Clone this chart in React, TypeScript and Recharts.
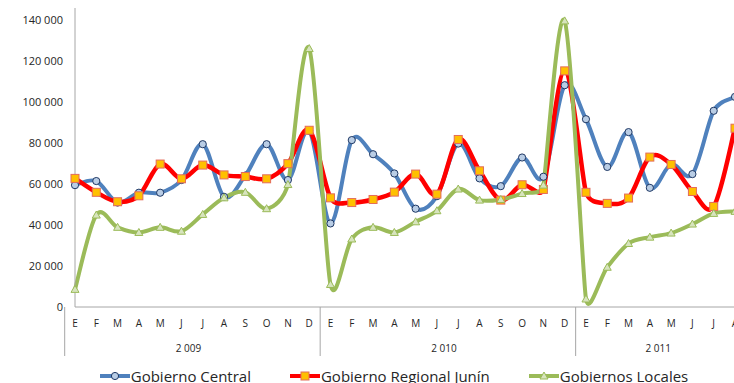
import React from "react";
import { LineChart, Line, XAxis, YAxis, Legend } from "recharts";

const months = ["E", "F", "M", "A", "M", "J", "J", "A", "S", "O", "N", "D"];
const years = ["2 009", "2 010", "2 011"];
const monthsPerYear = [12, 12, 8];

const gobiernoCentral = [
  59500, 61500, 51000, 55800, 55800, 62000, 79500, 53800, 64200, 79500, 62000, 86000,
  40800, 81500, 74600, 65200, 48000, 54100, 79800, 62800, 59000, 73000, 63600, 108300,
  91700, 68400, 85400, 58200, 69600, 64900, 95800, 102600,
];
const gobiernoRegional = [
  62800, 56000, 51400, 54300, 69800, 62600, 69300, 64500, 63700, 62600, 70000, 86300,
  53300, 51000, 52500, 56100, 64900, 55100, 81800, 66500, 52200, 59700, 57400, 115300,
  56000, 50600, 53200, 73200, 69600, 56400, 49100, 87300,
];
const gobiernosLocales = [
  8600, 44900, 38900, 36400, 38900, 37000, 45200, 53300, 56000, 48000, 59800, 126200,
  11000, 33200, 38900, 36400, 41600, 47000, 57600, 52200, 52500, 55400, 59500, 139700,
  3900, 19400, 31000, 34100, 36100, 40500, 45700, 46700,
];
const yTicks = [0, 20000, 40000, 60000, 80000, 100000, 120000, 140000];

const data: any[] = [];
let k = 0;
years.forEach((anio, yi) => {
  for (let m = 0; m < monthsPerYear[yi]; m++) {
    data.push({
      id: `${yi}-${m}`,
      mes: months[m],
      anio,
      yi,
      m,
      central: gobiernoCentral[k],
      regional: gobiernoRegional[k],
      locales: gobiernosLocales[k],
    });
    k++;
  }
});

const FONT = "'Open Sans', sans-serif";
const AXIS = "#a6a6a6";
const TEXT = "#262626";

// Excel style smoothed line: Bezier with 1/6 tangents, capped at half the shorter neighbour segment
function excelSmooth(context: any) {
  let pts: number[][] = [];
  const tangent = (i: number) => {
    const n = pts.length;
    const p0 = pts[Math.max(i - 1, 0)];
    const p1 = pts[i];
    const p2 = pts[Math.min(i + 1, n - 1)];
    let tx = (p2[0] - p0[0]) / 6;
    let ty = (p2[1] - p0[1]) / 6;
    const len = Math.hypot(tx, ty);
    const d01 = Math.hypot(p1[0] - p0[0], p1[1] - p0[1]) || Infinity;
    const d12 = Math.hypot(p2[0] - p1[0], p2[1] - p1[1]) || Infinity;
    const cap = Math.min(d01, d12) / 2;
    if (len > cap && len > 0) {
      tx *= cap / len;
      ty *= cap / len;
    }
    return [tx, ty];
  };
  return {
    areaStart() {},
    areaEnd() {},
    lineStart() {
      pts = [];
    },
    point(x: number, y: number) {
      pts.push([+x, +y]);
    },
    lineEnd() {
      const n = pts.length;
      if (!n) return;
      context.moveTo(pts[0][0], pts[0][1]);
      for (let i = 0; i < n - 1; i++) {
        const a = pts[i];
        const b = pts[i + 1];
        const ta = tangent(i);
        const tb = tangent(i + 1);
        context.bezierCurveTo(a[0] + ta[0], a[1] + ta[1], b[0] - tb[0], b[1] - tb[1], b[0], b[1]);
      }
    },
  };
}

const fmt = (v: number) => String(v).replace(/\B(?=(\d{3})+(?!\d))/g, " ");

function MonthTick(props: any) {
  const { x, y, payload, width } = props;
  const row = data[payload.index];
  if (!row) return null;
  const band = width / data.length;
  const left = x - band / 2;
  return (
    <g>
      <text x={x} y={y + 20} textAnchor="middle" fontSize={10} fontFamily={FONT} fill={TEXT}>
        {row.mes}
      </text>
      {row.m === 0 && (
        <>
          <line x1={left} x2={left} y1={y} y2={y + 49} stroke={AXIS} strokeWidth={1} />
          <text
            x={left + (monthsPerYear[row.yi] * band) / 2}
            y={y + 45}
            textAnchor="middle"
            fontSize={10}
            fontFamily={FONT}
            fill={TEXT}
          >
            {row.anio}
          </text>
        </>
      )}
    </g>
  );
}

const CircleDot = (p: any) => (
  <circle key={`c-${p.index}`} cx={p.cx} cy={p.cy} r={3.6} fill="#b9cde5" stroke="#1f3864" strokeWidth={1} />
);
const SquareDot = (p: any) => (
  <rect key={`s-${p.index}`} x={p.cx - 4} y={p.cy - 4} width={8} height={8} fill="#ffc000" stroke="#e46c5a" strokeWidth={1} />
);
const TriangleDot = (p: any) => (
  <path
    key={`t-${p.index}`}
    d={`M${p.cx},${p.cy - 4}L${p.cx + 4},${p.cy + 3}L${p.cx - 4},${p.cy + 3}Z`}
    fill="#d7e4bd"
    stroke="#9bbb59"
    strokeWidth={1}
  />
);

const legendItems = [
  { name: "Gobierno Central", color: "#4f81bd", marker: "circle" },
  { name: "Gobierno Regional Junín", color: "#ff0000", marker: "square" },
  { name: "Gobiernos Locales", color: "#9bbb59", marker: "triangle" },
];

function LegendContent() {
  return (
    <div
      style={{
        display: "flex",
        justifyContent: "center",
        gap: 38,
        fontFamily: FONT,
        fontSize: 15,
        color: TEXT,
        paddingTop: 1,
        paddingLeft: 52,
      }}
    >
      {legendItems.map((it) => (
        <div key={it.name} style={{ display: "flex", alignItems: "center" }}>
          <svg width={32} height={12}>
            <line x1={1} x2={31} y1={6} y2={6} stroke={it.color} strokeWidth={4} />
            {it.marker === "circle" && <circle cx={16} cy={6} r={3.6} fill="#b9cde5" stroke="#1f3864" />}
            {it.marker === "square" && <rect x={12} y={2} width={8} height={8} fill="#ffc000" stroke="#e46c5a" />}
            {it.marker === "triangle" && <path d="M16,2L20,9L12,9Z" fill="#d7e4bd" stroke="#9bbb59" />}
          </svg>
          <span style={{ lineHeight: "20px" }}>{it.name}</span>
        </div>
      ))}
    </div>
  );
}

export default function App() {
  return (
    <div style={{ position: "absolute", left: 0, top: 0, width: 734, height: 383, overflow: "hidden", background: "#fff" }}>
      <LineChart width={760} height={395} data={data} margin={{ top: 8, right: 25, left: 0, bottom: 0 }}>
        <XAxis
          dataKey="id"
          interval={0}
          tickLine={false}
          tickSize={0}
          tickMargin={0}
          height={58}
          stroke={AXIS}
          tick={<MonthTick />}
        />
        <YAxis
          width={75}
          domain={[0, 146000]}
          ticks={yTicks}
          tickFormatter={fmt}
          tickLine={false}
          tickMargin={6}
          stroke={AXIS}
          tick={{ fontSize: 11, fontFamily: FONT, fill: TEXT }}
          allowDataOverflow
        />
        <Legend verticalAlign="bottom" height={30} content={<LegendContent />} />
        <Line
          dataKey="central"
          name="Gobierno Central"
          type={excelSmooth as any}
          stroke="#4f81bd"
          strokeWidth={4}
          dot={CircleDot}
          activeDot={false}
          isAnimationActive={false}
        />
        <Line
          dataKey="regional"
          name="Gobierno Regional Junín"
          type={excelSmooth as any}
          stroke="#ff0000"
          strokeWidth={4.5}
          dot={SquareDot}
          activeDot={false}
          isAnimationActive={false}
        />
        <Line
          dataKey="locales"
          name="Gobiernos Locales"
          type={excelSmooth as any}
          stroke="#9bbb59"
          strokeWidth={4}
          dot={TriangleDot}
          activeDot={false}
          isAnimationActive={false}
        />
      </LineChart>
    </div>
  );
}
